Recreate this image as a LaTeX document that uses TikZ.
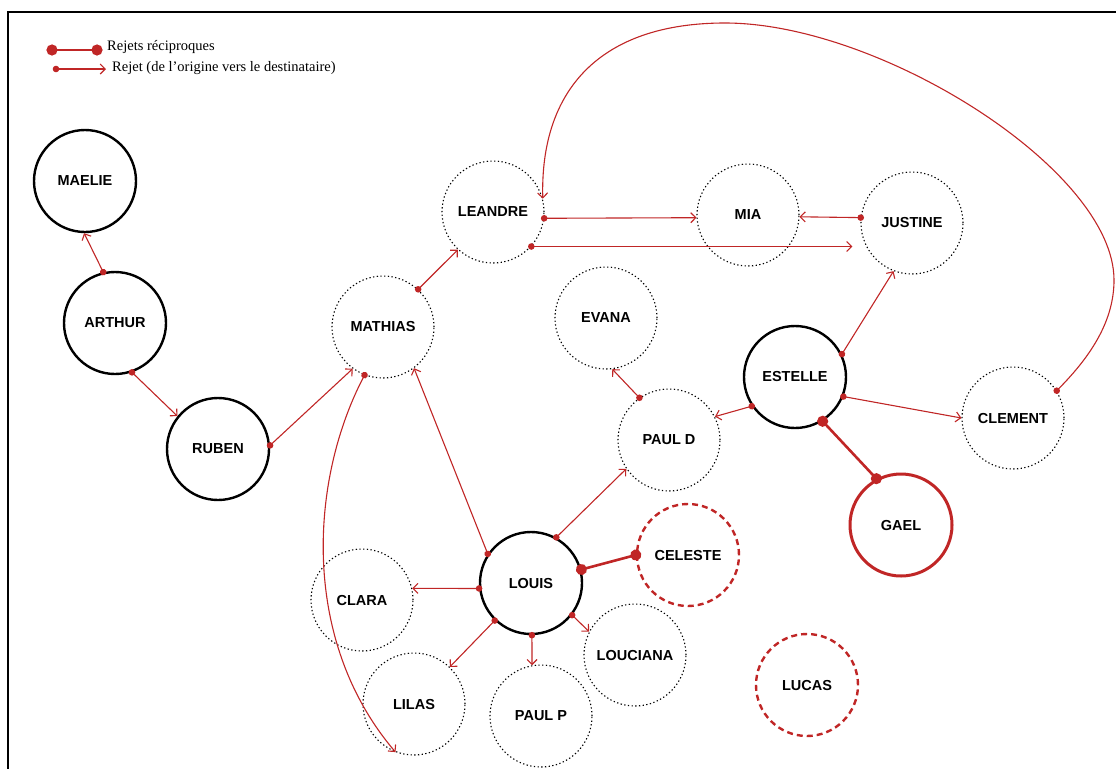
\documentclass[tikz,border=0pt]{standalone}
\usepackage{fontspec}
\setmainfont{Liberation Serif}
\setsansfont{Liberation Sans}
\usetikzlibrary{arrows.meta}
\definecolor{rouge}{RGB}{192,38,38}

\begin{document}
\begin{tikzpicture}[x=1pt,y=-1pt]
        \tikzstyle{sommet}=[circle, minimum size=102pt, inner sep=0, font=\sffamily\bfseries\fontsize{14.5}{18}\selectfont];
        \tikzstyle{plein}=[sommet, draw=black, line width=2.4pt];
        \tikzstyle{pointille}=[sommet, draw=black, line width=1.1pt, dash pattern=on 1.3pt off 2.4pt];
        \tikzstyle{rougeplein}=[sommet, draw=rouge, line width=3pt];
        \tikzstyle{rougetiret}=[sommet, draw=rouge, line width=2.4pt, dash pattern=on 6pt off 4pt];
        \tikzstyle{rejet}=[draw=rouge, line width=1.1pt, {Circle[length=6.5pt]}-{Straight Barb[length=5pt,width=10pt]}, shorten <=-3.25pt];
        \tikzstyle{reciproque}=[draw=rouge, line width=2.6pt, {Circle[length=11pt]}-{Circle[length=11pt]}, shorten <=-5.5pt, shorten >=-5.5pt];
        \tikzstyle{legende}=[anchor=west, inner sep=0, font=\fontsize{14.5}{16}\selectfont];

        \useasboundingbox (0,0) rectangle (1116,769);
        \draw[line width=2pt] (1116,12) -| (8,769);

        \coordinate (rA) at (52,50);
        \coordinate (rB) at (97,50);
        \draw[reciproque] (rA) -- (rB);
        \node[legende] (lrecip) at (107,47) {Rejets réciproques};
        \coordinate (sA) at (56,69);
        \coordinate (sB) at (106,69);
        \draw[rejet] (sA) -- (sB);
        \node[legende] (lrejet) at (112,68) {Rejet (de l’origine vers le destinataire)};

        \foreach \nom/\x/\y/\txt in {maelie/85/181/MAELIE, arthur/115/323/ARTHUR, ruben/218/449/RUBEN,
            estelle/795/377/ESTELLE, louis/531/583/LOUIS}{
          \node[plein] (\nom) at (\x,\y) {\txt};
        }
        \foreach \nom/\x/\y/\txt in {mathias/383/327/MATHIAS, leandre/493/212/LEANDRE, mia/748/215/MIA,
            justine/912/223/JUSTINE, evana/606/318/EVANA, pauld/669/440/PAUL D, clement/1013/418/CLEMENT,
            clara/362/600/CLARA, lilas/414/704/LILAS, paulp/541/716/PAUL P, louciana/635/655/LOUCIANA}{
          \node[pointille] (\nom) at (\x,\y) {\txt};
        }
        \node[rougeplein] (gael) at (901,525) {GAEL};
        \node[rougetiret] (celeste) at (688,555) {CELESTE};
        \node[rougetiret] (lucas) at (807,685) {LUCAS};

        \foreach \a/\b in {arthur.103/maelie.-91, arthur.-71/ruben.141, ruben.4/mathias.-126,
            mathias.47/leandre.-133, louis.146/mathias.-53, louis.186/clara.13, louis.-134/lilas.46,
            louis.-89/paulp.100, louis.-38/louciana.153, louis.61/pauld.-146, pauld.125/evana.-83,
            estelle.-146/pauld.27, estelle.26/justine.-111, estelle.-22/clement.180,
            justine.174/mia.-2, leandre.-7/mia.-177}{
          \draw[rejet] (\a) -- (\b);
        }
        \draw[rejet, shorten >=8pt] (leandre.-42) -- (leandre.-42 -| justine.west);
        \draw[rejet] (mathias.-111) .. controls (310,480) and (300,640) .. (lilas.-111);
        \draw[rejet] (clement.32) .. controls (1092,355) and (1114,320) .. (1114,280)
          .. controls (1114,170) and (880,23) .. (725,23)
          .. controls (600,23) and (540,90) .. (leandre.15);

        \draw[reciproque] (louis.15) -- (celeste.180);
        \draw[reciproque] (estelle.-58) -- (gael.118);
    \end{tikzpicture}
\end{document}
